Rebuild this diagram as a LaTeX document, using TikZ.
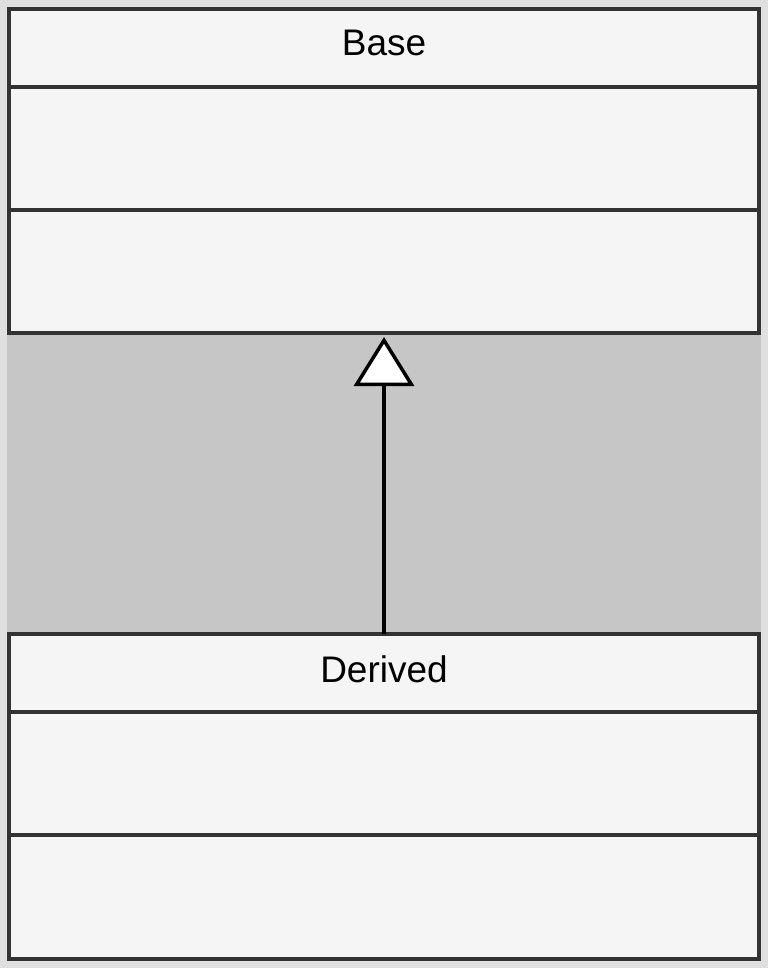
\documentclass[tikz,border=0pt]{standalone}
\usepackage{fontspec}
\setmainfont{Liberation Sans}
\usetikzlibrary{arrows.meta}
\definecolor{marginbg}{HTML}{E0E0E0}
\definecolor{gapgray}{HTML}{C6C6C6}
\definecolor{partfill}{HTML}{F5F5F5}
\definecolor{partline}{HTML}{333333}
\tikzset{
  umlpart/.style={draw=partline, fill=partfill, line width=4pt, rectangle,
    inner sep=0pt, outer sep=0pt, minimum width=750pt, anchor=north west},
  classname/.style={anchor=base, font=\fontsize{37}{40}\selectfont, text=black, inner sep=0pt},
  inherit/.style={draw=black, line width=3.5pt,
    -{Triangle[open, fill=white, length=49pt, width=60pt]}, shorten >=4pt}
}
\begin{document}
\begin{tikzpicture}[x=1pt,y=-1pt]
\fill[marginbg] (0,0) rectangle (768,968);
\useasboundingbox (0,0) rectangle (768,968);
\fill[gapgray] (7,333) rectangle (761,634);
% Base class
\node[umlpart, minimum height=78pt] (baseHead) at (9,9) {};
\node[umlpart, minimum height=123pt] (baseAttr) at (9,87) {};
\node[umlpart, minimum height=123pt] (baseOps) at (9,210) {};
\node[classname] (baseName) at (384,56) {Base};
% Derived class
\node[umlpart, minimum height=78pt] (derivedHead) at (9,634) {};
\node[umlpart, minimum height=123pt] (derivedAttr) at (9,712) {};
\node[umlpart, minimum height=124pt] (derivedOps) at (9,835) {};
\node[classname] (derivedName) at (384,682) {Derived};
% Generalization
\draw[inherit] (derivedHead.north) -- (baseOps.south);
\end{tikzpicture}
\end{document}
